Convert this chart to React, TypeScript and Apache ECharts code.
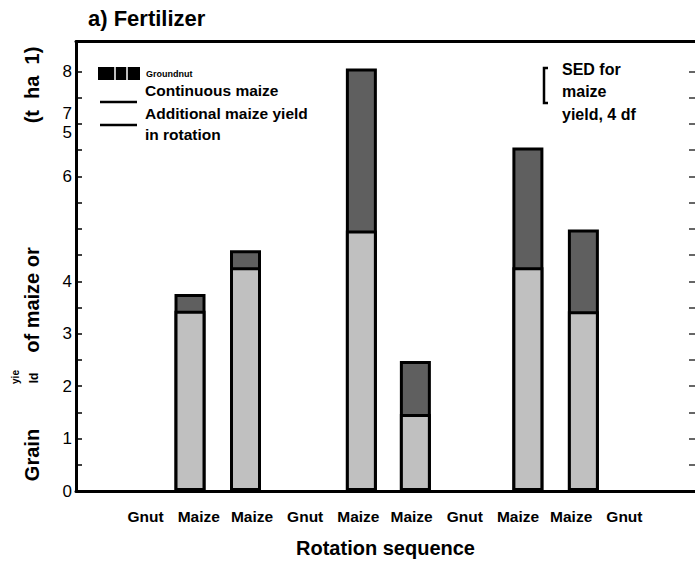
import React, { useEffect, useRef } from "react";
import * as echarts from "echarts";

const categories = ["Gnut", "Maize", "Maize", "Gnut", "Maize", "Maize", "Gnut", "Maize", "Maize", "Gnut"];
const categoryPositions = [0, 1, 2, 3, 4, 5, 6, 7, 8, 9];
const barPositions = [0.835, 1.878, 4.056, 5.071, 7.186, 8.229];
const continuousMaize = [3.44, 4.27, 4.97, 1.47, 4.27, 3.43];
const additionalYield = [0.32, 0.32, 3.09, 1.01, 2.28, 1.56];
const yLabelValues = [0, 1, 2, 3, 4, 6, 6.84, 7.2, 8];
const yLabelTexts = ["0", "1", "2", "3", "4", "6", "5", "7", "8"];
const yTickValues = [0.5, 1, 1.5, 2, 2.5, 3, 3.5, 4, 4.5, 5, 5.5, 6, 6.5, 7, 7.5, 8];

const FONT = "'Liberation Sans', Arial, Helvetica, sans-serif";

export default function App() {
  const ref = useRef<HTMLDivElement>(null);
  useEffect(() => {
    if (!ref.current) return;
    const chart = echarts.init(ref.current, null, { renderer: "svg" });
    const xMin = -1.308;
    const xMax = 10.327;
    const yMax = 8.574;
    const bold = (size: number) => ({ fontFamily: FONT, fontWeight: "bold" as const, fontSize: size, fill: "#000" });
    const totals = continuousMaize.map((c, i) => c + additionalYield[i]);
    chart.setOption({
      animation: false,
      backgroundColor: "#fff",
      textStyle: { fontFamily: FONT },
      grid: { left: 76, right: 0, top: 41.5, bottom: 70.5 },
      xAxis: [
        {
          type: "value",
          position: "bottom",
          min: xMin,
          max: xMax,
          axisLine: { show: true, onZero: false, lineStyle: { color: "#000", width: 3 } },
          axisTick: { show: false },
          splitLine: { show: false },
          axisLabel: {
            customValues: categoryPositions,
            formatter: (v: number) => {
              const i = categoryPositions.findIndex((p) => Math.abs(p - v) < 1e-6);
              return i >= 0 ? categories[i] : "";
            },
            color: "#000",
            fontWeight: "bold",
            fontSize: 15.5,
            fontFamily: FONT,
            margin: 17,
          },
          name: "Rotation sequence",
          nameLocation: "middle",
          nameGap: 47,
          nameTextStyle: { color: "#000", fontWeight: "bold", fontSize: 20, fontFamily: FONT },
        },
        {
          type: "value",
          position: "top",
          min: xMin,
          max: xMax,
          axisLine: { show: true, onZero: false, lineStyle: { color: "#000", width: 3 } },
          axisTick: { show: false },
          splitLine: { show: false },
          axisLabel: { show: false },
        },
      ],
      yAxis: [
        {
          type: "value",
          position: "left",
          min: 0,
          max: yMax,
          axisLine: { show: true, onZero: false, lineStyle: { color: "#000", width: 3 } },
          axisTick: {
            show: true,
            inside: true,
            length: 6,
            customValues: yTickValues,
            lineStyle: { color: "#000", width: 1.5 },
          },
          splitLine: { show: false },
          axisLabel: {
            customValues: yLabelValues,
            formatter: (v: number) => {
              const i = yLabelValues.findIndex((p) => Math.abs(p - v) < 1e-6);
              return i >= 0 ? yLabelTexts[i] : "";
            },
            color: "#000",
            fontSize: 17,
            fontFamily: FONT,
            margin: 4,
          },
        },
        {
          type: "value",
          position: "right",
          min: 0,
          max: yMax,
          axisLine: { show: false, onZero: false },
          axisTick: {
            show: true,
            inside: true,
            length: 6,
            customValues: yTickValues,
            lineStyle: { color: "#333", width: 1.5 },
          },
          splitLine: { show: false },
          axisLabel: { show: false },
        },
      ],
      series: [
        {
          name: "Additional maize yield in rotation",
          type: "bar",
          xAxisIndex: 0,
          yAxisIndex: 0,
          barWidth: 31,
          barGap: "-100%",
          itemStyle: { color: "#5f5f5f", borderColor: "#000", borderWidth: 3 },
          data: barPositions.map((x, i) => [x, totals[i]]),
        },
        {
          name: "Continuous maize",
          type: "bar",
          xAxisIndex: 0,
          yAxisIndex: 0,
          barWidth: 31,
          barGap: "-100%",
          itemStyle: { color: "#c0c0c0", borderColor: "#000", borderWidth: 3 },
          data: barPositions.map((x, i) => [x, continuousMaize[i]]),
        },
      ],
      graphic: [
        { type: "text", left: 88, top: 7, style: { ...bold(22), text: "a) Fertilizer" } },
        { type: "text", x: 32, y: 455, rotation: Math.PI / 2, style: { ...bold(20), text: "Grain", align: "center", verticalAlign: "middle" } },
        { type: "text", x: 15, y: 377, rotation: Math.PI / 2, style: { ...bold(10), text: "yie", align: "center", verticalAlign: "middle" } },
        { type: "text", x: 34, y: 378, rotation: Math.PI / 2, style: { ...bold(12), text: "ld", align: "center", verticalAlign: "middle" } },
        { type: "text", x: 32, y: 300, rotation: Math.PI / 2, style: { ...bold(20), text: "of maize or", align: "center", verticalAlign: "middle" } },
        { type: "text", x: 32, y: 85, rotation: Math.PI / 2, style: { ...bold(20), text: "(t  ha  1)", align: "center", verticalAlign: "middle" } },
        { type: "rect", shape: { x: 98, y: 67, width: 42, height: 13 }, style: { fill: "#000" } },
        { type: "line", shape: { x1: 115, y1: 67, x2: 115, y2: 80 }, style: { stroke: "#fff", lineWidth: 1.5 } },
        { type: "line", shape: { x1: 127, y1: 67, x2: 127, y2: 80 }, style: { stroke: "#fff", lineWidth: 1.5 } },
        { type: "text", x: 146, y: 74, style: { ...bold(9), text: "Groundnut", verticalAlign: "middle" } },
        { type: "text", x: 145, y: 90, style: { ...bold(15.5), text: "Continuous maize", verticalAlign: "middle" } },
        { type: "line", shape: { x1: 100, y1: 102, x2: 137, y2: 102 }, style: { stroke: "#000", lineWidth: 2.5 } },
        { type: "text", x: 145, y: 113, style: { ...bold(15.5), text: "Additional maize yield", verticalAlign: "middle" } },
        { type: "line", shape: { x1: 100, y1: 125, x2: 137, y2: 125 }, style: { stroke: "#000", lineWidth: 2.5 } },
        { type: "text", x: 145, y: 134, style: { ...bold(15.5), text: "in rotation", verticalAlign: "middle" } },
        { type: "polyline", shape: { points: [[548, 68], [544, 68], [544, 103], [548, 103]] }, style: { stroke: "#000", lineWidth: 2.5, fill: "none" } },
        { type: "text", x: 562, y: 69, style: { ...bold(16), text: "SED for", verticalAlign: "middle" } },
        { type: "text", x: 562, y: 91, style: { ...bold(16), text: "maize", verticalAlign: "middle" } },
        { type: "text", x: 562, y: 114, style: { ...bold(16), text: "yield, 4 df", verticalAlign: "middle" } },
      ],
    });
    return () => chart.dispose();
  }, []);
  return <div ref={ref} style={{ position: "fixed", left: 0, top: 0, width: 695, height: 563 }} />;
}
